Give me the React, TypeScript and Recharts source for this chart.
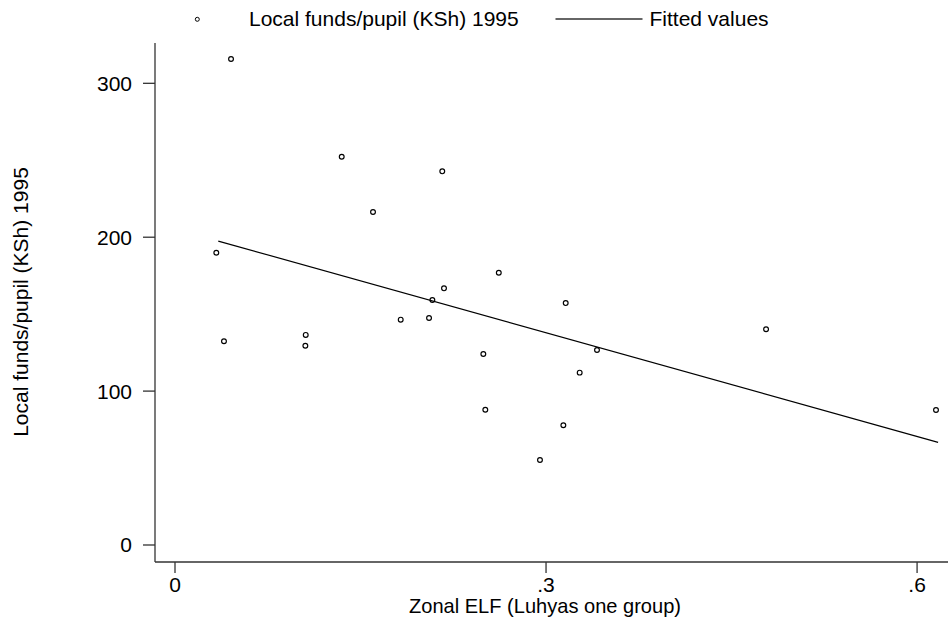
import React from 'react';
import { ScatterChart, Scatter, XAxis, YAxis, Label } from 'recharts';

const elf = [0.0453, 0.1348, 0.2161, 0.1601, 0.0334, 0.2618, 0.2175, 0.2081, 0.3159, 0.1825, 0.2054, 0.1057, 0.1054, 0.0396, 0.2493, 0.3412, 0.3272, 0.2509, 0.3140, 0.2951, 0.4779, 0.6153];
const funds = [315.8, 252.3, 242.8, 216.4, 189.9, 176.9, 166.8, 159.2, 157.2, 146.4, 147.5, 136.5, 129.5, 132.4, 124.1, 126.7, 112.0, 87.9, 77.8, 55.2, 140.2, 87.7];
const fitX = [0.035, 0.617];
const fitY = [197.5, 66.7];
const xTicks = [0, 0.3, 0.6];
const yTicks = [0, 100, 200, 300];

const points = elf.map((x, i) => ({ x, y: funds[i] }));
const fitted = fitX.map((x, i) => ({ x, y: fitY[i] }));

const FONT = '"Liberation Sans", Arial, Helvetica, sans-serif';

const Dot = (props: any) => {
  const { cx, cy } = props;
  if (cx == null || cy == null) return <g />;
  return <circle cx={cx} cy={cy} r={2.4} fill="none" stroke="#000" strokeWidth={1.15} />;
};

const fmtX = (v: number) => (v === 0 ? '0' : String(v).replace(/^0/, ''));

export default function App() {
  return (
    <div style={{ position: 'absolute', left: 0, top: 0, width: 948, height: 621, background: '#fff', fontFamily: FONT }}>
      <ScatterChart width={948} height={621} margin={{ top: 43, right: 0, bottom: 0, left: 0 }}>
        <XAxis
          dataKey="x"
          type="number"
          domain={[-0.01617, 0.625]}
          ticks={xTicks}
          tickFormatter={fmtX}
          allowDataOverflow
          height={59}
          tickSize={11}
          tickMargin={4}
          stroke="#333"
          strokeWidth={1.3}
          tick={{ fontSize: 21, fill: '#000', fontFamily: FONT }}
        >
          <Label
            content={() => (
              <text
                x={545}
                y={613}
                textAnchor="middle"
                fontSize={21}
                fontFamily={FONT}
                fill="#000"
                textLength={272}
                lengthAdjust="spacingAndGlyphs"
              >
                Zonal ELF (Luhyas one group)
              </text>
            )}
          />
        </XAxis>
        <YAxis
          dataKey="y"
          type="number"
          domain={[-11.05, 326.2]}
          ticks={yTicks}
          allowDataOverflow
          width={155}
          tickSize={12}
          tickMargin={11}
          stroke="#333"
          strokeWidth={1.3}
          tick={{ fontSize: 21, fill: '#000', fontFamily: FONT }}
        >
          <Label
            content={() => (
              <text
                x={21}
                y={302}
                dy="0.35em"
                textAnchor="middle"
                fontSize={21}
                fontFamily={FONT}
                fill="#000"
                transform="rotate(-90, 21, 302)"
              >
                Local funds/pupil (KSh) 1995
              </text>
            )}
          />
        </YAxis>
        <Scatter data={points} shape={<Dot />} isAnimationActive={false} />
        <Scatter
          data={fitted}
          line={{ stroke: '#000', strokeWidth: 1.2 }}
          shape={() => <g />}
          isAnimationActive={false}
        />
      </ScatterChart>
      <div style={{ position: 'absolute', left: 0, top: 0, width: 948, height: 40, pointerEvents: 'none' }}>
        <svg width={948} height={40} style={{ position: 'absolute', left: 0, top: 0 }}>
          <circle cx={197.3} cy={19.3} r={2} fill="none" stroke="#000" strokeWidth={1} />
          <text x={249} y={26} fontSize={21} fontFamily={FONT} fill="#000">Local funds/pupil (KSh) 1995</text>
          <line x1={555.5} y1={19} x2={642.5} y2={19} stroke="#333" strokeWidth={1.3} />
          <text x={649.5} y={26} fontSize={21} fontFamily={FONT} fill="#000">Fitted values</text>
        </svg>
      </div>
    </div>
  );
}
